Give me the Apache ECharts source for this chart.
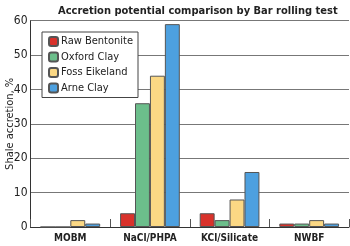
<!DOCTYPE html>
<html><head><meta charset="utf-8">
<script src="https://cdn.jsdelivr.net/npm/echarts@6/dist/echarts.min.js"></script>
<style>html,body{margin:0;padding:0;background:#fff}#c{width:350px;height:246px}</style>
</head><body><div id="c"></div>
<script>
var categories = ['MOBM', 'NaCl/PHPA', 'KCl/Silicate', 'NWBF'];
var seriesNames = ['Raw Bentonite', 'Oxford Clay', 'Foss Eikeland', 'Arne Clay'];
var rawBentonite = [0, 4, 4, 1];
var oxfordClay = [0, 36, 2, 1];
var fossEikeland = [2, 44, 8, 2];
var arneClay = [1, 59, 16, 1];
var colors = ['#d9322b', '#6cbe8b', '#fbd884', '#4da0df'];
var FONT = '"DejaVu Sans Condensed", "Liberation Sans Narrow", sans-serif';
var values = [rawBentonite, oxfordClay, fossEikeland, arneClay];
var chart = echarts.init(document.getElementById('c'), null, {renderer: 'canvas'});
chart.setOption({
  animation: false,
  title: {text: 'Accretion potential comparison by Bar rolling test', left: 53, top: 1,
    textStyle: {fontFamily: FONT, fontSize: 11, fontWeight: 'bold', color: '#222'}},
  legend: {orient: 'vertical', left: 42, top: 32, itemWidth: 9, itemHeight: 9, itemGap: 4.5,
    backgroundColor: '#fff', borderColor: '#444', borderWidth: 1, padding: [4, 5, 4, 6],
    data: seriesNames,
    textStyle: {fontFamily: FONT, fontSize: 11, color: '#222', padding: [0, 0, 0, -2]}},
  grid: {left: 30.5, right: 1, top: 20.7, bottom: 19, outerBoundsMode: 'none', containLabel: false},
  xAxis: {type: 'category', data: categories,
    axisLine: {lineStyle: {color: '#333', width: 1}},
    axisTick: {show: true, inside: true, length: 8, lineStyle: {color: '#555'}},
    axisLabel: {interval: 0, fontFamily: FONT, fontSize: 10, fontWeight: 'bold', color: '#222', margin: 6}},
  yAxis: {type: 'value', min: 0, max: 60, interval: 10,
    name: 'Shale accretion, %', nameLocation: 'middle', nameGap: 15, nameMoveOverlap: false,
    nameTextStyle: {fontFamily: FONT, fontSize: 11, color: '#222'},
    axisLine: {show: true, lineStyle: {color: '#333', width: 1}},
    axisTick: {show: false},
    axisLabel: {fontFamily: FONT, fontSize: 12, color: '#222', margin: 3},
    splitLine: {lineStyle: {color: '#777', width: 1}}},
  series: seriesNames.map(function (n, i) {
    return {name: n, type: 'bar', data: values[i], barGap: '0%', barCategoryGap: '25%',
      itemStyle: {color: colors[i], borderColor: '#555', borderWidth: 1}};
  })
});
</script></body></html>
